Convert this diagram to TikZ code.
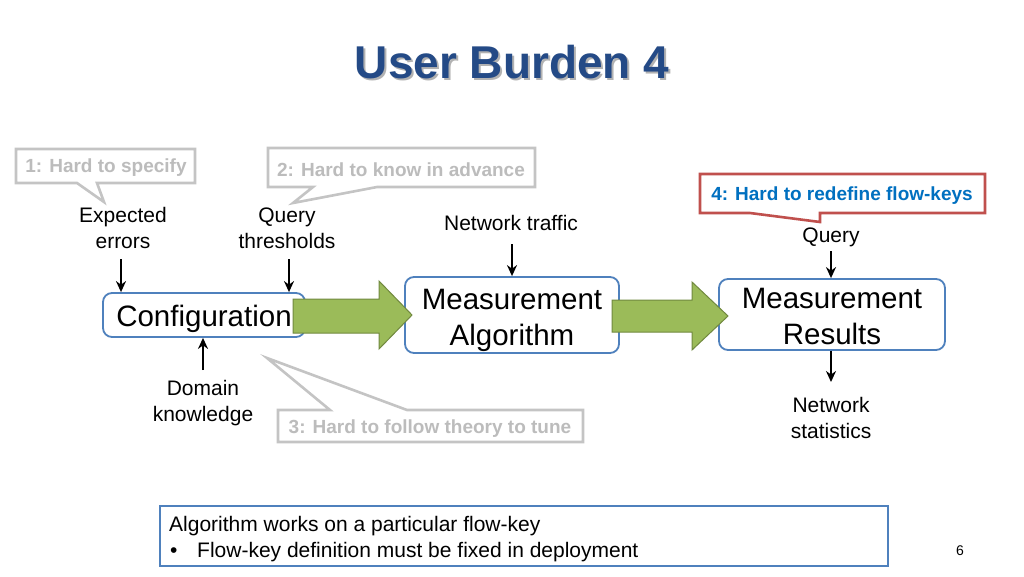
\documentclass[tikz,border=0pt]{standalone}
\usepackage{fontspec}
\setmainfont{Liberation Sans}
\usetikzlibrary{arrows.meta}
\definecolor{titleblue}{RGB}{36,74,134}
\definecolor{boxblue}{RGB}{79,129,189}
\definecolor{calgray}{RGB}{196,196,196}
\definecolor{caltext}{RGB}{188,188,188}
\definecolor{calred}{RGB}{192,80,77}
\definecolor{calblue}{RGB}{0,112,192}
\definecolor{gfill}{RGB}{155,187,89}
\definecolor{gdraw}{RGB}{113,137,63}
\begin{document}
\begin{tikzpicture}[x=1pt,y=-1pt,
 lbl/.style={font=\fontsize{21}{26}\selectfont, align=center, inner sep=0},
 mbox/.style={draw=boxblue, line width=1.8pt, rounded corners=9pt, fill=white, inner sep=0},
 btext/.style={font=\fontsize{29.5}{36}\selectfont, align=center, inner sep=0},
 callg/.style={draw=calgray, line width=2.6pt, fill=white, line join=miter},
 callr/.style={draw=calred, line width=2.6pt, fill=white, line join=miter},
 ctext/.style={font=\fontsize{19}{22}\selectfont\bfseries, text=caltext, inner sep=0},
 darr/.style={-{Stealth[length=11pt,width=10pt]}, line width=2.8pt},
 garr/.style={fill=gfill, draw=gdraw, line width=1pt, line join=miter},
 notetext/.style={font=\fontsize{21}{24}\selectfont, inner sep=0, anchor=base west}
]
\useasboundingbox[fill=white] (0,0) rectangle (1024,576);

% title with shadow
\node[font=\fontsize{46}{50}\selectfont\bfseries, text=black!30, anchor=base, inner sep=0] (tshadow) at (514,80) {User Burden 4};
\node[font=\fontsize{46}{50}\selectfont\bfseries, text=titleblue, anchor=base, inner sep=0] (title) at (512,78) {User Burden 4};

% callouts
\draw[callg] (16,149) -- (195,149) -- (195,183) -- (97,183) -- (104,202) -- (77,183) -- (16,183) -- cycle;
\node[ctext] (c1) at (106,168) {1: Hard to specify};
\draw[callg] (268,148) -- (535,148) -- (535,187) -- (377,187) -- (293,203) -- (313,187) -- (268,187) -- cycle;
\node[ctext] (c2) at (401,169.5) {2: Hard to know in advance};
\draw[callr] (700,174) -- (985,174) -- (985,213) -- (820,213) -- (820,222) -- (750,213) -- (700,213) -- cycle;
\node[ctext, text=calblue] (c4) at (842,196) {4: Hard to redefine flow-keys};
\draw[callg] (278,410) -- (330,410) -- (267,358) -- (407,410) -- (583,410) -- (583,442) -- (278,442) -- cycle;
\node[ctext] (c3) at (430,429) {3: Hard to follow theory to tune};

% boxes
\node[mbox, minimum width=202pt, minimum height=44pt,
  label={[btext, yshift=-4pt]center:Configuration}] (conf) at (204,315) {};
\node[mbox, minimum width=214pt, minimum height=76pt,
  label={[btext, yshift=-5pt]center:Measurement\\Algorithm}] (ma) at (512,315) {};
\node[mbox, minimum width=226pt, minimum height=71pt,
  label={[btext, yshift=-1.5pt]center:Measurement\\Results}] (mr) at (832,314.5) {};

% green block arrows
\draw[garr] (293,299) -- (379,299) -- (379,281) -- (412,315) -- (379,349) -- (379,333) -- (293,333) -- cycle;
\draw[garr] (612,300) -- (692,300) -- (692,282) -- (728,316) -- (692,350) -- (692,332) -- (612,332) -- cycle;

% labels
\node[lbl] (ee) at (123,228) {Expected\\errors};
\node[lbl] (qt) at (287,228) {Query\\thresholds};
\node[lbl] (nt) at (511,223) {Network traffic};
\node[lbl] (q) at (831,237) {Query};
\node[lbl] (dk) at (203,403) {Domain\\knowledge};
\node[lbl] (ns) at (831,418) {Network\\statistics};

% arrow free ends
\coordinate (ee-a) at (121,259);
\coordinate (qt-a) at (289,259);
\coordinate (nt-a) at (512,244);
\coordinate (q-a) at (831,251);
\coordinate (dk-a) at (203,370);
\coordinate (ns-a) at (831,382);

% arrows
\draw[darr] (ee-a) -- (ee-a |- conf.north);
\draw[darr] (qt-a) -- (qt-a |- conf.north);
\draw[darr] (nt-a) -- (nt-a |- ma.north);
\draw[darr] (q-a) -- (q-a |- mr.north);
\draw[darr] (dk-a) -- (dk-a |- conf.south);
\draw[darr] (ns-a |- mr.south) -- (ns-a);

% note box
\node[draw=boxblue, line width=1.8pt, minimum width=728pt, minimum height=60pt, inner sep=0] (note) at (524,536) {};
\node[notetext] (n1) at (169,531) {Algorithm works on a particular flow-key};
\node[notetext] (nb) at (170,557) {•};
\node[notetext] (n2) at (197,557) {Flow-key definition must be fixed in deployment};

\node[font=\fontsize{14}{16}\selectfont, inner sep=0] (pg) at (960,551) {6};
\end{tikzpicture}
\end{document}
